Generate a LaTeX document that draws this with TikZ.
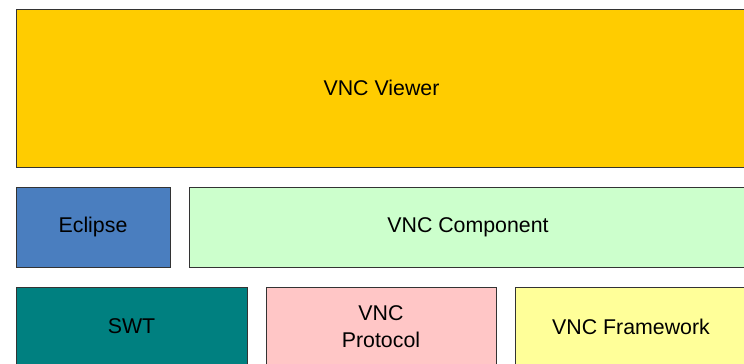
\documentclass[tikz,border=0pt]{standalone}
\usepackage{fontspec}
\setmainfont{Liberation Sans}

\definecolor{viewercol}{HTML}{FFCC00}
\definecolor{eclipsecol}{HTML}{4A7EBF}
\definecolor{compcol}{HTML}{CCFFCC}
\definecolor{swtcol}{HTML}{008080}
\definecolor{protocol}{HTML}{FFC6C6}
\definecolor{framecol}{HTML}{FFFF99}

\tikzset{
  layer/.style={draw=black!80, line width=0.75pt, inner sep=0pt, outer sep=0pt,
    align=center, font=\fontsize{16}{20}\selectfont}
}

\begin{document}
\begin{tikzpicture}[x=0.75pt,y=-0.75pt]
\useasboundingbox (0,0) rectangle (744,364);

%верхний слой
\node[layer, fill=viewercol, minimum width=548.25pt, minimum height=118.5pt] (viewer) at (381.5,88) {VNC Viewer};

%средний слой
\node[layer, fill=eclipsecol, minimum width=115.5pt, minimum height=60pt] (eclipse) at (93,227) {Eclipse};
\node[layer, fill=compcol, minimum width=418.5pt, minimum height=60pt] (component) at (468,227) {VNC Component};

%нижний слой
\node[layer, fill=swtcol, minimum width=173.25pt, minimum height=59.25pt] (swt) at (131.5,326.5) {SWT};
\node[layer, fill=protocol, minimum width=172.5pt, minimum height=59.25pt] (proto) at (381,326.5) {VNC\\Protocol};
\node[layer, fill=framecol, minimum width=174pt, minimum height=59.25pt] (framework) at (631,326.5) {VNC Framework};

\end{tikzpicture}
\end{document}
